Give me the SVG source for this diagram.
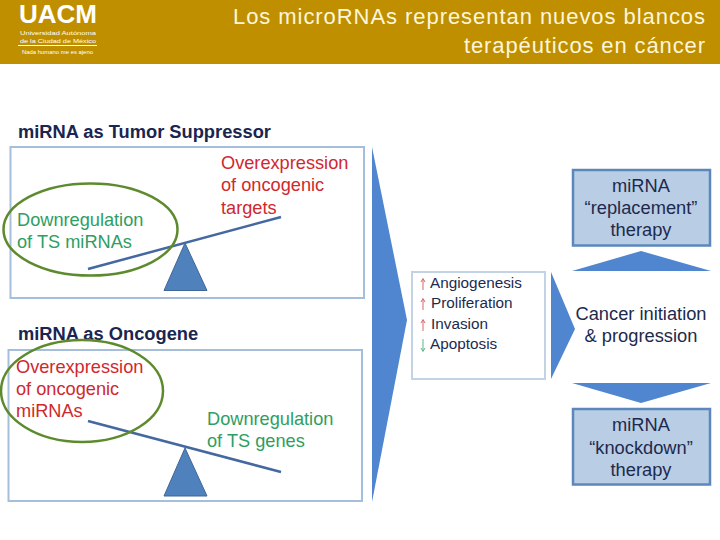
<svg xmlns="http://www.w3.org/2000/svg" width="720" height="540" viewBox="0 0 720 540">
<style>
text{font-family:"Liberation Sans",Arial,sans-serif}
.t{font-size:22px;fill:#fdf6dc}
.h{font-size:18.3px;font-weight:bold;fill:#1a2550}
.g{font-size:18.2px;fill:#2e9e62}
.r{font-size:18.2px;fill:#d0282e}
.k{font-size:18.3px;fill:#1d2a4d}
.s{font-size:15.3px;fill:#1d2a4d}
.box{fill:#fff;stroke:#a5bfdb;stroke-width:2}
.tri{fill:#4f81bd;stroke:#3f6797;stroke-width:1}
.big{fill:#4f86cf}
.beam{stroke:#44689f;stroke-width:2.5;fill:none}
.oval{fill:none;stroke:#5e8a2e;stroke-width:2.5}
.th{fill:#b9cde5;stroke:#5b87bd;stroke-width:2.5}
</style>
<rect width="720" height="64" fill="#bf8f00"/>
<g id="logo" fill="#fff" text-anchor="start">
<text x="19" y="23" style="font-size:26px;font-weight:bold" textLength="78" lengthAdjust="spacingAndGlyphs">UACM</text>
<text x="20" y="35" style="font-size:6px" textLength="76" lengthAdjust="spacingAndGlyphs">Universidad Autónoma</text>
<text x="20" y="43" style="font-size:6px" textLength="76" lengthAdjust="spacingAndGlyphs">de la Ciudad de México</text>
<rect x="18" y="45" width="79" height="1"/>
<text x="22" y="54" style="font-size:4.500px" textLength="71" lengthAdjust="spacingAndGlyphs">Nada humano me es ajeno</text>
</g>
<g id="title">
<text class="t" x="233" y="24" textLength="472" lengthAdjust="spacing">Los microRNAs representan nuevos blancos</text>
<text class="t" x="464" y="53" textLength="241" lengthAdjust="spacing">terapéuticos en cáncer</text>
</g>
<g id="suppressor">
<text class="h" x="18" y="138">miRNA as Tumor Suppressor</text>
<rect class="box" x="10.500" y="147" width="353.500" height="151"/>
<path class="tri" d="M185 243L207 290.500H164Z"/>
<path class="beam" d="M88 269L281 217"/>
<text class="r" x="221" y="169">Overexpression</text>
<text class="r" x="221" y="191">of oncogenic</text>
<text class="r" x="221" y="214">targets</text>
<text class="g" x="17" y="226">Downregulation</text>
<text class="g" x="17" y="248">of TS miRNAs</text>
<ellipse class="oval" cx="90.500" cy="229.500" rx="87" ry="46"/>
</g>
<g id="oncogene">
<text class="h" x="18" y="340">miRNA as Oncogene</text>
<rect class="box" x="8.500" y="350" width="353.500" height="151"/>
<path class="tri" d="M185 448L207 496H164Z"/>
<path class="beam" d="M88 421L281 472"/>
<text class="r" x="16" y="373">Overexpression</text>
<text class="r" x="16" y="395">of oncogenic</text>
<text class="r" x="16" y="417">miRNAs</text>
<text class="g" x="207" y="425">Downregulation</text>
<text class="g" x="207" y="447">of TS genes</text>
<ellipse class="oval" cx="82" cy="391" rx="81" ry="51"/>
</g>
<g id="connectors">
<path class="big" d="M372 147L407 320L372 502Z"/>
<path class="big" d="M551 272L575 329L551 379Z"/>
<path class="big" d="M572 271L641 251L711 271Z"/>
<path class="big" d="M572 383H711L641 403Z"/>
</g>
<g id="effects">
<rect class="box" x="412" y="272" width="133" height="107" style="stroke:#c3d3e6"/>
<text class="s" x="430" y="288">Angiogenesis</text>
<text class="s" x="431" y="308">Proliferation</text>
<text class="s" x="431" y="329">Invasion</text>
<text class="s" x="430" y="349">Apoptosis</text>
<g fill="none" stroke-width="1">
<path stroke="#d9666a" d="M423 290V279M421 282L423 278.500L425 282M423 310V299M421 302L423 298.500L425 302M423 331V320M421 323L423 319.500L425 323"/>
<path stroke="#5fb586" d="M423 339V351M421 348L423 351.500L425 348"/>
</g>
</g>
<g id="cancer" text-anchor="middle">
<text class="k" x="641" y="320">Cancer initiation</text>
<text class="k" x="641" y="342">&amp; progression</text>
</g>
<g id="replacement" text-anchor="middle">
<rect class="th" x="573" y="170" width="137" height="75.500"/>
<text class="k" x="641" y="192">miRNA</text>
<text class="k" x="641" y="214">“replacement”</text>
<text class="k" x="641" y="236">therapy</text>
</g>
<g id="knockdown" text-anchor="middle">
<rect class="th" x="573" y="409" width="137" height="75.500"/>
<text class="k" x="641" y="431">miRNA</text>
<text class="k" x="641" y="454">“knockdown”</text>
<text class="k" x="641" y="476">therapy</text>
</g>
</svg>
